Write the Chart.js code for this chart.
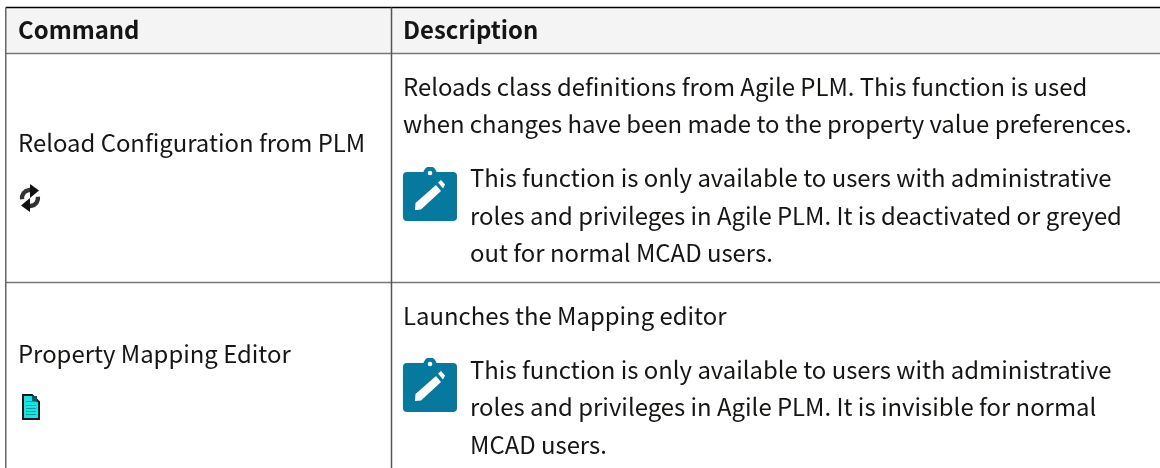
<!DOCTYPE html>
<html lang="en">
<head>
  <meta charset="UTF-8">
  <title>Commands</title>
  <script src="https://cdn.jsdelivr.net/npm/chart.js@4/dist/chart.umd.min.js"></script>
  <style>
    html, body { margin: 0; padding: 0; background: #fff; }
    canvas { display: block; }
  </style>
</head>
<body>
  <canvas id="tabla" width="1160" height="468"></canvas>
  <script>
    // table content
    const headers = ['Command', 'Description'];
    const commands = ['Reload Configuration from PLM', 'Property Mapping Editor'];
    const descriptions = [
      ['Reloads class definitions from Agile PLM. This function is used',
       'when changes have been made to the property value preferences.'],
      ['Launches the Mapping editor']
    ];
    const notes = [
      ['This function is only available to users with administrative',
       'roles and privileges in Agile PLM. It is deactivated or greyed',
       'out for normal MCAD users.'],
      ['This function is only available to users with administrative',
       'roles and privileges in Agile PLM. It is invisible for normal',
       'MCAD users.']
    ];

    // layout, in scale units (same as pixels of the window)
    const columnEdges = [5.75, 391.5];
    const rowEdges = [7.5, 53.5, 282.5];
    const FONT = '"Noto Sans CJK SC", "Noto Sans", sans-serif';
    const FONT_SIZE = 23.9;
    const TEXT_COLOR = '#161513';
    const LINE_H = 37.5;
    const layout = [
      { command: 152, icon: 198, iconX: 30, desc: 95.9, descX: 403, noteIcon: 194, note: 187 },
      { command: 363, icon: 407, iconX: 31, desc: 325, descX: 403, noteIcon: 385, note: 378.9 }
    ];

    function iconCanvas(w, h, paint) {
      const c = document.createElement('canvas');
      c.width = w;
      c.height = h;
      paint(c.getContext('2d'));
      return c;
    }

    // blue clipboard + pencil
    const noteIcon = iconCanvas(54, 54, g => {
      g.fillStyle = '#06799f';
      g.beginPath();
      g.roundRect(0, 5, 54, 49, 4);
      g.fill();
      g.beginPath();
      g.arc(27, 6, 6.5, 0, Math.PI * 2);
      g.fill();
      g.fillStyle = '#fff';
      g.beginPath();
      g.arc(27, 6, 2.3, 0, Math.PI * 2);
      g.fill();
      g.beginPath();
      g.moveTo(12, 43);
      g.lineTo(12.5, 36);
      g.lineTo(33, 18);
      g.lineTo(38, 24);
      g.lineTo(18, 42.5);
      g.closePath();
      g.fill();
      g.beginPath();
      g.moveTo(35, 15.5);
      g.lineTo(38, 13);
      g.lineTo(42, 17.5);
      g.lineTo(40, 21.5);
      g.closePath();
      g.fill();
    });

    // black reload arrows
    const reloadIcon = iconCanvas(22, 28, g => {
      g.strokeStyle = '#333';
      g.fillStyle = '#111';
      g.lineWidth = 4.4;
      g.beginPath();
      g.arc(11, 14, 8, Math.PI * 0.95, Math.PI * 1.5);
      g.stroke();
      g.beginPath();
      g.arc(11, 14, 8, Math.PI * 1.95, Math.PI * 0.5);
      g.stroke();
      g.beginPath();
      g.moveTo(11, 0);
      g.lineTo(20, 6.5);
      g.lineTo(11, 14);
      g.closePath();
      g.fill();
      g.beginPath();
      g.moveTo(11, 28);
      g.lineTo(2, 21.5);
      g.lineTo(11, 14);
      g.closePath();
      g.fill();
    });

    // cyan document
    const docIcon = iconCanvas(18, 26, g => {
      g.fillStyle = '#14e6e6';
      g.strokeStyle = '#1a1a1a';
      g.lineWidth = 2;
      g.beginPath();
      g.moveTo(1, 1);
      g.lineTo(10, 1);
      g.lineTo(17, 8);
      g.lineTo(17, 25);
      g.lineTo(1, 25);
      g.closePath();
      g.fill();
      g.stroke();
      g.fillStyle = '#0a5a5a';
      g.fillRect(10, 2, 5, 6);
      g.strokeStyle = '#0d9b9b';
      g.lineWidth = 1;
      [7, 11, 14, 17, 20].forEach(y => {
        g.beginPath();
        g.moveTo(4, y + 0.5);
        g.lineTo(14, y + 0.5);
        g.stroke();
      });
    });

    // table rules built from the edges, drawn as line datasets
    function rule(points, color) {
      return {
        type: 'line',
        data: points,
        borderColor: color,
        borderWidth: 1.5,
        pointRadius: 0,
        borderCapStyle: 'butt',
        tension: 0,
        clip: false,
        order: 2
      };
    }
    const BOTTOM = 468;
    const RIGHT = 1160;
    const rules = [
      rule([{ x: columnEdges[0], y: rowEdges[0] }, { x: columnEdges[0], y: BOTTOM }], '#666'),
      rule([{ x: columnEdges[1], y: rowEdges[0] }, { x: columnEdges[1], y: BOTTOM }], '#555'),
      rule([{ x: columnEdges[0], y: rowEdges[1] }, { x: RIGHT, y: rowEdges[1] }], '#777'),
      rule([{ x: columnEdges[0], y: rowEdges[2] }, { x: RIGHT, y: rowEdges[2] }], '#777'),
      rule([{ x: columnEdges[0], y: rowEdges[0] }, { x: RIGHT, y: rowEdges[0] }], '#000')
    ];

    // header background and text go through the scales
    const tablePlugin = {
      id: 'tablePlugin',
      beforeDatasetsDraw(chart) {
        const { ctx, scales: { x, y } } = chart;
        ctx.save();
        ctx.fillStyle = '#f4f4f4';
        ctx.fillRect(x.getPixelForValue(columnEdges[0]), y.getPixelForValue(rowEdges[0]),
          x.getPixelForValue(RIGHT) - x.getPixelForValue(columnEdges[0]),
          y.getPixelForValue(rowEdges[1]) - y.getPixelForValue(rowEdges[0]));
        ctx.restore();
      },
      afterDraw(chart) {
        const { ctx, scales: { x, y } } = chart;
        const put = (s, px, py) => ctx.fillText(s, x.getPixelForValue(px), y.getPixelForValue(py));
        ctx.save();
        ctx.fillStyle = TEXT_COLOR;
        ctx.textBaseline = 'alphabetic';
        ctx.font = 'bold ' + FONT_SIZE + 'px ' + FONT;
        put(headers[0], 18, 39);
        put(headers[1], 403, 39);
        ctx.font = FONT_SIZE + 'px ' + FONT;
        commands.forEach((c, i) => {
          const l = layout[i];
          put(c, 18, l.command);
          descriptions[i].forEach((s, k) => put(s, l.descX, l.desc + k * LINE_H));
          notes[i].forEach((s, k) => put(s, 470, l.note + k * LINE_H));
        });
        ctx.restore();
      }
    };

    new Chart(document.getElementById('tabla'), {
      type: 'scatter',
      data: {
        datasets: [{
          label: 'icons',
          data: [
            { x: 430, y: layout[0].noteIcon },
            { x: 430, y: layout[1].noteIcon },
            { x: layout[0].iconX, y: layout[0].icon },
            { x: layout[1].iconX, y: layout[1].icon }
          ],
          pointStyle: [noteIcon, noteIcon, reloadIcon, docIcon],
          clip: false,
          order: 1
        }, ...rules]
      },
      options: {
        responsive: false,
        animation: false,
        events: [],
        layout: { autoPadding: false, padding: 0 },
        plugins: { legend: { display: false }, tooltip: { enabled: false }, title: { display: false } },
        scales: {
          x: { type: 'linear', display: false, min: 0, max: RIGHT },
          y: { type: 'linear', display: false, reverse: true, min: 0, max: BOTTOM }
        }
      },
      plugins: [tablePlugin]
    });
  </script>
</body>
</html>
